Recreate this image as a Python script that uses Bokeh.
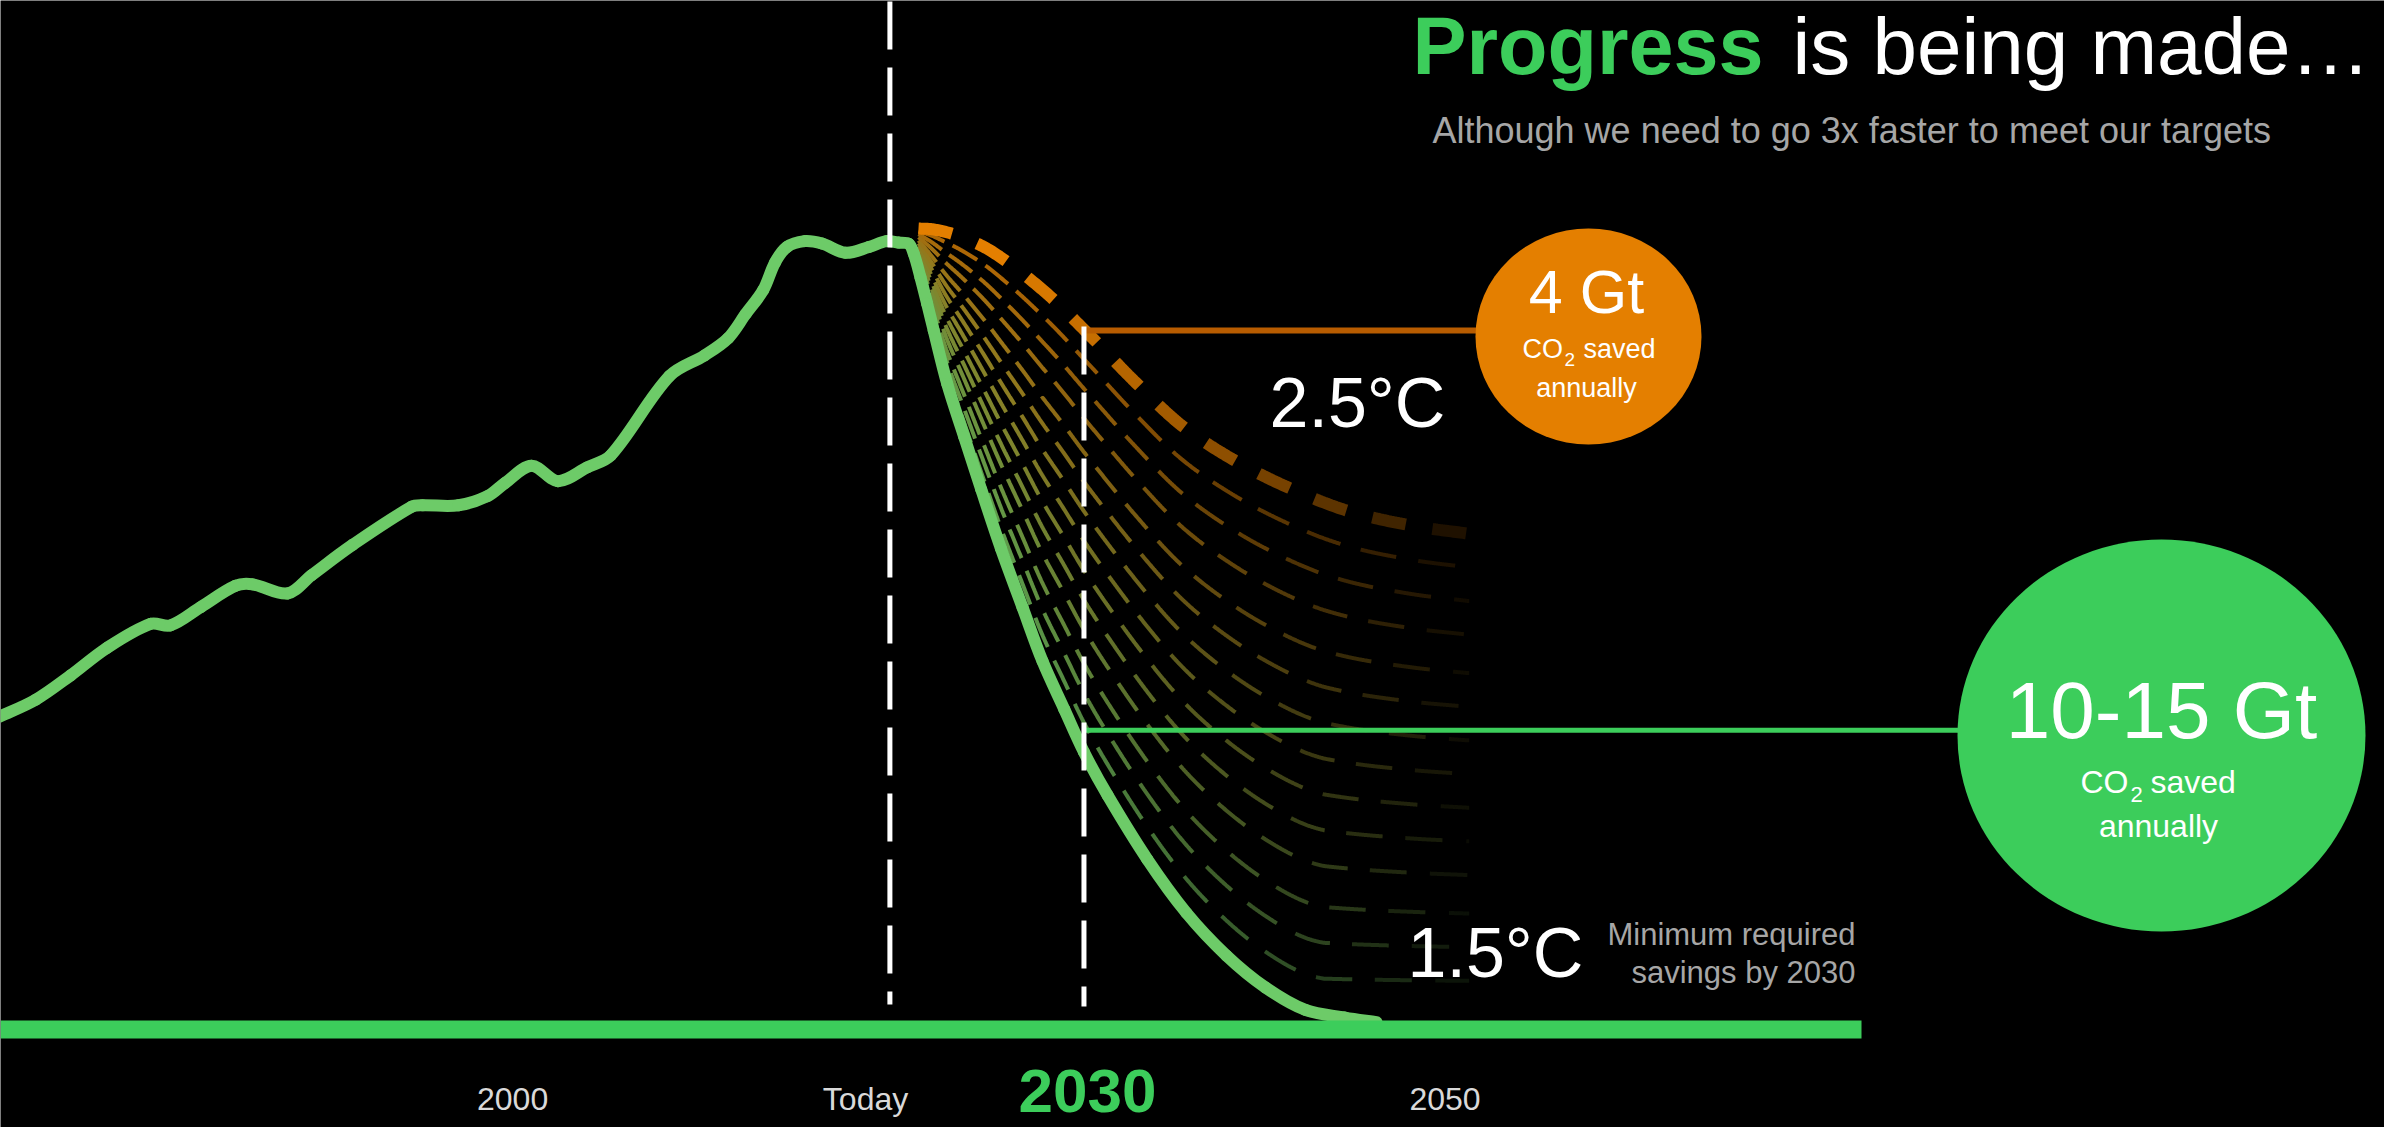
import numpy as np
from bokeh.plotting import figure
from bokeh.models import ColumnDataSource, Range1d
from bokeh.core.properties import value
from bokeh.embed import file_html
from bokeh.resources import INLINE

# ---------------- data ----------------
hist_years = [1973.9, 1975.75, 1977.56, 1979.43, 1981.71, 1982.75, 1984.31, 1986.11, 1986.99,
              1988.80, 1990.05, 1992.18, 1995.23, 1995.80, 1997.66, 1999.16, 2000.07, 2001.44,
              2002.81, 2004.32, 2005.55, 2008.58, 2010.40, 2011.62, 2012.53, 2013.44, 2014.05,
              2014.66, 2015.57, 2016.48, 2017.70, 2018.91, 2019.82, 2020.43]
hist_gt = [19.6, 20.7, 22.3, 24.1, 25.7, 25.6, 26.8, 28.2, 28.3,
           27.7, 28.9, 30.9, 33.4, 33.5, 33.5, 34.1, 34.97, 36.1,
           35.09, 35.99, 36.79, 42.0, 43.36, 44.49, 46.08, 47.66, 49.47,
           50.49, 50.88, 50.72, 50.11, 50.49, 50.88, 50.79]

# 1.5 degC pathway (thick light-green curve)
path15_years = [2020.98, 2021.24, 2021.58, 2021.93, 2022.27, 2022.97, 2023.85, 2024.73,
                2025.75, 2026.87, 2027.90, 2029.03, 2030.05, 2031.27, 2033.33, 2035.36, 2037.43,
                2039.45, 2041.52, 2043.57, 2045.2]
path15_gt = [50.70, 50.04, 48.51, 46.76, 45.00, 41.49, 38.00, 34.54,
             30.66, 26.78, 23.25, 20.08, 17.26, 14.43, 10.21, 6.68, 3.88,
             1.78, 0.30, -0.2, -0.5]

# 2.5 degC pathway (thick orange dashed curve)
path25_years = [2021.48, 2022.31, 2023.66, 2025.34, 2027.95, 2030.36, 2032.65, 2035.11, 2037.84,
                2040.70, 2043.77, 2047.05, 2049.91]
path25_gt = [51.71, 51.64, 51.18, 50.15, 47.63, 44.67, 41.68, 38.75, 36.46,
             34.63, 33.11, 32.16, 31.64]

# intermediate scenarios between the two pathways (share of the way to 2.5 degC)
fan_weights = [0.07, 0.14, 0.21, 0.29, 0.36, 0.43, 0.50, 0.57, 0.64, 0.71, 0.79, 0.86, 0.93]

marker_years = [2020.0, 2030.05]          # "Today" and 2030
level25_2030 = 45.0                        # 2.5 degC level in 2030 (orange connector)
level15_2030 = 18.7                        # 1.5 degC level in 2030 (green connector)

tick_labels = ["2000", "Today", "2030", "2050"]
tick_years = [2000.46, 2018.74, 2030.23, 2048.75]

# ---------------- layout helpers ----------------
W, H = 2384, 1127
PX_X = 19.31   # pixels per year
PX_Y = 15.2    # pixels per Gt


def X(px):
    return 2020 + (px - 889.4) / PX_X


def Y(py):
    return (1014 - py) / PX_Y


GREEN = "#3ccd5b"
LIGHT_GREEN = "#6dcb68"
ORANGE = "#e47f00"
GREY = "#a6a6a6"
FONT = value("Liberation Sans")

p = figure(width=W, height=H, output_backend="svg", toolbar_location=None,
           x_range=Range1d(X(0), X(W)), y_range=Range1d(Y(H), Y(0)),
           x_axis_location=None, y_axis_location=None, min_border=0)
p.background_fill_color = "black"
p.border_fill_color = "black"
p.outline_line_color = None
p.grid.visible = False


def hexcol(rgb):
    r, g, b = [int(max(0, min(255, round(c)))) for c in rgb]
    return "#%02x%02x%02x" % (r, g, b)


def fade(x):
    return float(np.clip((2051 - x) / 25.0, 0, 1)) ** 0.8


def bezier_controls(xs, ys):
    """Smooth cubic Bezier handles through the given points (screen-space chord tangents)."""
    P = np.column_stack([np.asarray(xs, float) * PX_X, np.asarray(ys, float) * PX_Y])
    d = np.hypot(*np.diff(P, axis=0).T)
    n = len(P)
    m = np.zeros_like(P)
    m[0] = (P[1] - P[0]) / d[0]
    m[-1] = (P[-1] - P[-2]) / d[-1]
    for i in range(1, n - 1):
        m[i] = (P[i + 1] - P[i - 1]) / (d[i - 1] + d[i])
    c0 = P[:-1] + m[:-1] * d[:, None] / 3
    c1 = P[1:] - m[1:] * d[:, None] / 3
    sc = np.array([PX_X, PX_Y])
    return P[:-1] / sc, P[1:] / sc, c0 / sc, c1 / sc


def bezier_sample(xs, ys, k=24):
    a, b, c0, c1 = bezier_controls(xs, ys)
    t = np.linspace(0, 1, k, endpoint=False)[:, None]
    out = []
    for i in range(len(a)):
        pts = ((1 - t) ** 3) * a[i] + 3 * ((1 - t) ** 2) * t * c0[i] + 3 * (1 - t) * t * t * c1[i] + t ** 3 * b[i]
        out.append(pts)
    out.append(b[-1][None, :])
    arr = np.vstack(out)
    return arr[:, 0], arr[:, 1]


def dashes(xs, ys, dash_fn, gap_fn):
    xs = np.asarray(xs, float)
    ys = np.asarray(ys, float)
    s = np.concatenate([[0.0], np.cumsum(np.hypot(np.diff(xs) * PX_X, np.diff(ys) * PX_Y))])
    total = s[-1]
    out = []
    pos = 0.0
    while pos < total - 1:
        t = pos / total
        end = min(pos + dash_fn(t), total)
        inner = (s > pos) & (s < end)
        px = np.concatenate([[np.interp(pos, s, xs)], xs[inner], [np.interp(end, s, xs)]])
        py = np.concatenate([[np.interp(pos, s, ys)], ys[inner], [np.interp(end, s, ys)]])
        out.append((px.tolist(), py.tolist()))
        pos = end + gap_fn(t)
    return out


# smooth renderings of the two pathways (used to build the fan)
g_sx, g_sy = bezier_sample(path15_years, path15_gt)
o_sx, o_sy = bezier_sample(path25_years, path25_gt)

# ---------------- fan of intermediate scenarios ----------------
grid = np.linspace(path25_years[0], 2050, 900)
g_line = np.maximum(np.interp(grid, g_sx, g_sy), 0.0)
o_line = np.interp(grid, o_sx, o_sy)
c_green = np.array([110, 200, 100])
c_orange = np.array([224, 123, 0])

fx, fy, fc = [], [], []
for w in fan_weights:
    yv = g_line + w * (o_line - g_line)
    base = (c_green * (1 - w) + c_orange * w) * 0.8
    for px, py in dashes(grid, yv, lambda t: 28 + 10 * t, lambda t: 9 + 16 * t):
        xm = 0.5 * (px[0] + px[-1])
        fx.append(px)
        fy.append(py)
        fc.append(hexcol(base * fade(xm)))
p.multi_line(xs="xs", ys="ys", line_color="c", line_width=4, line_cap="butt",
             source=ColumnDataSource(dict(xs=fx, ys=fy, c=fc)))

# ---------------- 2.5 degC thick dashed orange ----------------
ox, oy, oc = [], [], []
for px, py in dashes(o_sx, o_sy, lambda t: 34, lambda t: 27):
    xm = 0.5 * (px[0] + px[-1])
    ox.append(px)
    oy.append(py)
    oc.append(hexcol(np.array([228, 127, 0]) * fade(xm)))
p.multi_line(xs="xs", ys="ys", line_color="c", line_width=12, line_cap="butt",
             source=ColumnDataSource(dict(xs=ox, ys=oy, c=oc)))

# ---------------- history + 1.5 degC thick curve (smooth Bezier segments) ----------------
a, b, c0, c1 = bezier_controls(hist_years + path15_years, hist_gt + path15_gt)
p.bezier(x0=a[:, 0], y0=a[:, 1], x1=b[:, 0], y1=b[:, 1],
         cx0=c0[:, 0], cy0=c0[:, 1], cx1=c1[:, 0], cy1=c1[:, 1],
         line_color=LIGHT_GREEN, line_width=12, line_cap="round")

# baseline bar
p.quad(left=[X(0)], right=[X(1861)], bottom=[Y(1038)], top=[Y(1020)],
       fill_color=GREEN, line_color=None)

# connectors
p.line([marker_years[1], X(1588)], [level25_2030, level25_2030], line_color="#b85c00", line_width=6)
p.line([marker_years[1], X(2161)], [level15_2030, level15_2030], line_color=GREEN, line_width=5)

# vertical dashed markers
p.line([marker_years[0], marker_years[0]], [Y(1), Y(1004)], line_color="white",
       line_width=5, line_dash="48 18")
p.line([marker_years[1], marker_years[1]], [Y(326), Y(1006)], line_color="white",
       line_width=5, line_dash="48 18")

# bubbles
p.ellipse(x=[X(1588)], y=[Y(336)], width=226, height=216, width_units="screen",
          height_units="screen", fill_color=ORANGE, line_color=None)
p.ellipse(x=[X(2161)], y=[Y(735)], width=408, height=392, width_units="screen",
          height_units="screen", fill_color=GREEN, line_color=None)

MID = 0.35   # distance from baseline to the text's vertical middle, in em


def txt(xp, baseline, s, size, color, align="left", bold=False):
    p.text(x=[X(xp)], y=[Y(baseline - MID * size)], text=[s], text_font=FONT,
           text_font_size=value(f"{size}px"), text_color=color, text_align=align,
           text_baseline="middle", text_font_style="bold" if bold else "normal")


# title & subtitle
txt(1412, 74, "Progress", 81, GREEN, bold=True)
txt(1792, 74, "is being made\u2026", 80, "white")
txt(1432, 143, "Although we need to go 3x faster to meet our targets", 36, GREY)

# scenario labels
txt(1269, 427, "2.5\u00b0C", 70, "white")
txt(1407, 977, "1.5\u00b0C", 70, "white")
txt(1855, 945, "Minimum required", 31, GREY, align="right")
txt(1855, 983, "savings by 2030", 31, GREY, align="right")

# orange bubble text
txt(1586, 313, "4 Gt", 61, "white", align="center")
txt(1522, 358, "CO", 27, "white")
txt(1564, 366, "2", 19, "white")
txt(1583, 358, "saved", 27, "white")
txt(1586, 397, "annually", 27, "white", align="center")

# green bubble text
txt(2161, 738, "10-15 Gt", 80, "white", align="center")
txt(2080, 793, "CO", 32, "white")
txt(2130, 802, "2", 22, "white")
txt(2150, 793, "saved", 32, "white")
txt(2158, 837, "annually", 32, "white", align="center")

# x labels
for lab, yr in zip(tick_labels, tick_years):
    if lab == "2030":
        size, base, col, style = 62, 1112, GREEN, "bold"
    else:
        size, base, col, style = 32, 1110, "#d9d9d9", "normal"
    p.text(x=[yr], y=[Y(base - MID * size)], text=[lab], text_font=FONT,
           text_font_size=value(f"{size}px"), text_color=col, text_align="center",
           text_baseline="middle", text_font_style=style)

html = file_html(p, INLINE)
html = html.replace("<body>", '<body style="background-color:#000000;margin:0;">', 1)
open("out.html", "w").write(html)
